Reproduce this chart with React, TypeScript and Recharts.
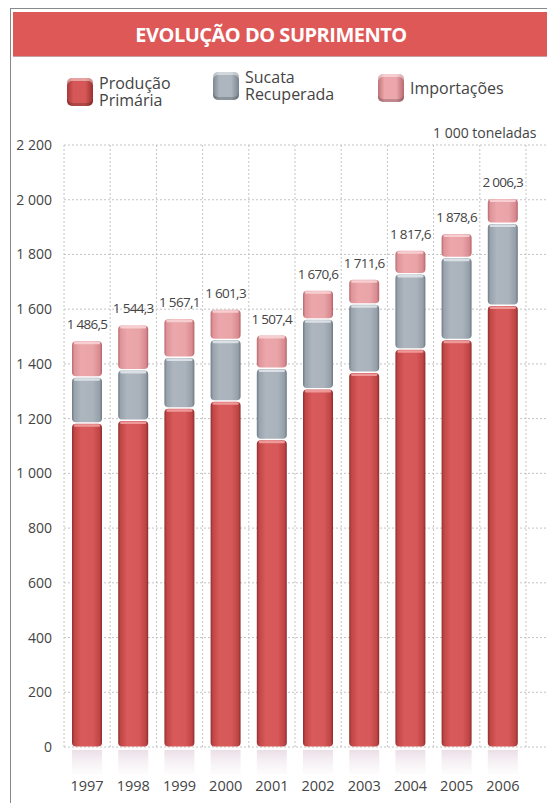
import React from 'react';
import { BarChart, Bar, XAxis, YAxis, CartesianGrid, LabelList } from 'recharts';

// valores em 1 000 toneladas
const anos = ['1997', '1998', '1999', '2000', '2001', '2002', '2003', '2004', '2005', '2006'];
const producaoPrimaria = [1185, 1195, 1240, 1265, 1125, 1310, 1370, 1455, 1490, 1615];
const sucataRecuperada = [168, 185, 185, 225, 260, 255, 250, 275, 300, 300];
const importacoes = [133.5, 164.3, 142.1, 111.3, 122.4, 105.6, 91.6, 87.6, 88.6, 91.3];
const totais = [1486.5, 1544.3, 1567.1, 1601.3, 1507.4, 1670.6, 1711.6, 1817.6, 1878.6, 2006.3];
const yTicks = [0, 200, 400, 600, 800, 1000, 1200, 1400, 1600, 1800, 2000, 2200];

const chartData = anos.map((ano, i) => ({
  ano,
  producao: producaoPrimaria[i],
  sucata: sucataRecuperada[i],
  importacoes: importacoes[i],
  total: totais[i],
}));

const FONT = '"Open Sans", "DejaVu Sans", sans-serif';
const TEXT = '#444';
const PAD_RIGHT = 21;

// "1486.5" -> "1 486,5" (espaço não separável, para o rótulo não quebrar)
const formatar = (v: number, decimal = false) => {
  const [inteiro, dec] = (decimal ? v.toFixed(1) : String(Math.round(v))).split('.');
  const s = inteiro.replace(/\B(?=(\d{3})+(?!\d))/g, '\u00a0');
  return dec ? `${s},${dec}` : s;
};

// bloco com aspecto 3D (gradiente + borda clara no topo)
const makeShape = (grad: string, lip: string, reflexo = false) => (props: any) => {
  const { x, y, width, height } = props;
  if (height == null || width == null) return null;
  const h = Math.max(height - 1.5, 0);
  return (
    <g>
      {reflexo && (
        <rect x={x} y={y + height + 3} width={width} height={24} fill="url(#reflexo)" />
      )}
      <rect x={x} y={y + 1} width={width} height={h} rx={4} ry={4} fill={`url(#${grad})`} />
      <rect x={x + 2} y={y + 1.5} width={width - 4} height={2.5} rx={1} fill={lip} opacity={0.85} />
    </g>
  );
};

const LegendIcon = ({ grad }: { grad: string[] }) => (
  <div
    style={{
      width: 26,
      height: 28,
      borderRadius: 5,
      background: `linear-gradient(90deg, ${grad[0]} 0%, ${grad[1]} 25%, ${grad[1]} 70%, ${grad[2]} 100%)`,
      boxShadow: `inset 0 3px 0 rgba(255,255,255,0.45), inset 0 -3px 0 rgba(0,0,0,0.18)`,
    }}
  />
);

const legendItems = [
  { label: 'Produção\nPrimária', grad: ['#a83a3a', '#d65757', '#9a3232'], left: 67, top: 75 },
  { label: 'Sucata\nRecuperada', grad: ['#7d8892', '#adb6bf', '#7a858f'], left: 213, top: 69 },
  { label: 'Importações', grad: ['#c07378', '#eba7ab', '#b8686e'], left: 378, top: 74 },
];

// linhas verticais nas divisões entre categorias
const divisoes = ({ offset }: any) => {
  const step = (offset.width - PAD_RIGHT) / anos.length;
  return [...anos.map((_, i) => offset.left + i * step), offset.left + anos.length * step];
};

const App: React.FC = () => {
  return (
    <div
      style={{
        position: 'absolute',
        left: 0,
        top: 0,
        width: 547,
        height: 803,
        overflow: 'hidden',
        background: '#fff',
        fontFamily: FONT,
        color: TEXT,
      }}
    >
      {/* moldura */}
      <div
        style={{
          position: 'absolute',
          left: 10,
          top: 8,
          right: -2,
          bottom: -2,
          borderLeft: '1px solid #888',
          borderTop: '1px solid #888',
        }}
      />
      {/* faixa do título */}
      <div
        style={{
          position: 'absolute',
          left: 13,
          top: 12,
          right: 0,
          height: 44,
          background: '#de5858',
          borderBottom: '1px solid #c9a0a0',
        }}
      />
      <div
        style={{
          position: 'absolute',
          left: 130,
          top: 13,
          width: 282,
          height: 44,
          lineHeight: '44px',
          textAlign: 'center',
          color: '#fff',
          fontWeight: 700,
          fontSize: 20,
          letterSpacing: -0.5,
          whiteSpace: 'nowrap',
        }}
      >
        EVOLUÇÃO DO SUPRIMENTO
      </div>

      {/* legenda */}
      {legendItems.map((item) => (
        <div
          key={item.label}
          style={{ position: 'absolute', left: item.left, top: item.top, display: 'flex', alignItems: 'center' }}
        >
          <LegendIcon grad={item.grad} />
          <div style={{ marginLeft: 6, fontSize: 16, lineHeight: '17px', whiteSpace: 'pre' }}>{item.label}</div>
        </div>
      ))}

      <div style={{ position: 'absolute', left: 433, top: 123, fontSize: 14, whiteSpace: 'nowrap' }}>
        1 000 toneladas
      </div>

      <div style={{ position: 'absolute', left: 0, top: 130 }}>
        <BarChart
          width={547}
          height={673}
          data={chartData}
          margin={{ top: 15, right: 0, left: 0, bottom: 0 }}
          barSize={30}
        >
          <defs>
            <linearGradient id="gRed" x1="0" y1="0" x2="1" y2="0">
              <stop offset="0%" stopColor="#8f2f2f" />
              <stop offset="8%" stopColor="#c24646" />
              <stop offset="30%" stopColor="#d85a5a" />
              <stop offset="70%" stopColor="#d65858" />
              <stop offset="92%" stopColor="#bf4444" />
              <stop offset="100%" stopColor="#8a2c2c" />
            </linearGradient>
            <linearGradient id="gGrey" x1="0" y1="0" x2="1" y2="0">
              <stop offset="0%" stopColor="#6f7a84" />
              <stop offset="8%" stopColor="#98a3ad" />
              <stop offset="30%" stopColor="#adb6bf" />
              <stop offset="70%" stopColor="#aab3bc" />
              <stop offset="92%" stopColor="#949fa9" />
              <stop offset="100%" stopColor="#6d7780" />
            </linearGradient>
            <linearGradient id="gPink" x1="0" y1="0" x2="1" y2="0">
              <stop offset="0%" stopColor="#b76a70" />
              <stop offset="8%" stopColor="#df9499" />
              <stop offset="30%" stopColor="#eba7ab" />
              <stop offset="70%" stopColor="#e9a4a8" />
              <stop offset="92%" stopColor="#d88a90" />
              <stop offset="100%" stopColor="#b0646a" />
            </linearGradient>
            <linearGradient id="reflexo" x1="0" y1="0" x2="0" y2="1">
              <stop offset="0%" stopColor="#e6d6e0" stopOpacity={0.8} />
              <stop offset="100%" stopColor="#f4eef2" stopOpacity={0.2} />
            </linearGradient>
          </defs>
          <CartesianGrid stroke="#c4c4c4" strokeDasharray="2 2" verticalCoordinatesGenerator={divisoes} />
          <XAxis
            dataKey="ano"
            axisLine={false}
            tickLine={false}
            tickMargin={28}
            height={56}
            padding={{ left: 0, right: PAD_RIGHT }}
            tick={{ fill: TEXT, fontSize: 14.5, fontFamily: FONT }}
            interval={0}
          />
          <YAxis
            width={64}
            domain={[0, 2200]}
            ticks={yTicks}
            axisLine={false}
            tickLine={false}
            tickMargin={6}
            tickFormatter={(v: number) => formatar(v)}
            tick={{ fill: TEXT, fontSize: 14, fontFamily: FONT }}
          />
          <Bar
            dataKey="producao"
            stackId="s"
            fill="#d65858"
            shape={makeShape('gRed', '#f2a4a4', true)}
            isAnimationActive={false}
          />
          <Bar
            dataKey="sucata"
            stackId="s"
            fill="#adb6bf"
            shape={makeShape('gGrey', '#e3e8ec')}
            isAnimationActive={false}
          />
          <Bar
            dataKey="importacoes"
            stackId="s"
            fill="#eba7ab"
            shape={makeShape('gPink', '#f9d6d8')}
            isAnimationActive={false}
          >
            <LabelList
              dataKey="total"
              position="top"
              offset={11}
              formatter={(v: any) => formatar(Number(v), true)}
              style={{ fill: TEXT, fontSize: 13.5, fontFamily: FONT, letterSpacing: -0.7 }}
            />
          </Bar>
        </BarChart>
      </div>
    </div>
  );
};

export default App;
